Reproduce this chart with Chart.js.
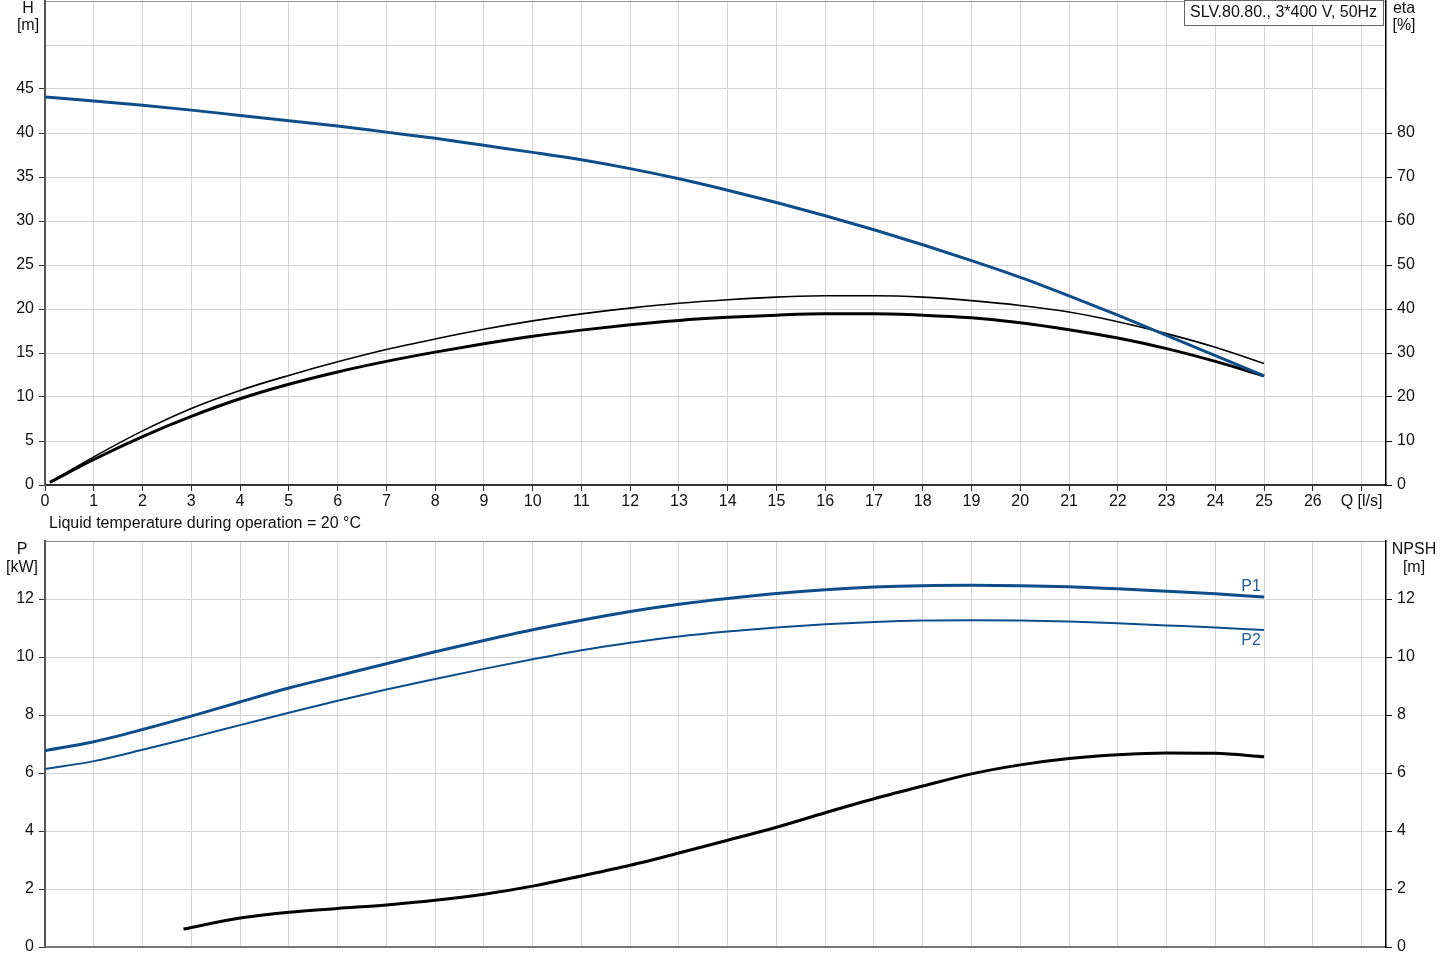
<!DOCTYPE html>
<html><head><meta charset="utf-8">
<script src="https://cdn.jsdelivr.net/npm/chart.js@4.4.1/dist/chart.umd.min.js"></script>
<style>
html,body{margin:0;padding:0;background:#fff;width:1445px;height:970px;overflow:hidden;}
canvas{position:absolute;left:0;}
#top{top:0;}
#bot{top:535px;}
</style></head><body>
<canvas id="top" width="1445" height="540"></canvas>
<canvas id="bot" width="1445" height="435"></canvas>
<script>
// ---- data ----
const qFlow = [0,1,2,3,4,5,6,7,8,9,10,11,12,13,14,15,16,17,18,19,20,21,22,23,24,25];
const headH = [44.1,43.65,43.15,42.6,42.0,41.4,40.8,40.1,39.4,38.6,37.8,36.95,35.95,34.8,33.5,32.1,30.6,29.0,27.3,25.5,23.6,21.5,19.3,17.0,14.7,12.4];
const qEta = [0.1,1,2,3,4,5,6,7,8,9,10,11,12,13,14,15,16,17,18,19,20,21,22,23,24,25];
const etaThin = [0.65,6.4,12.3,17.4,21.5,24.9,28.0,30.8,33.2,35.4,37.3,38.9,40.2,41.3,42.1,42.7,43.0,43.0,42.7,41.9,40.8,39.3,37.1,34.4,31.3,27.6];
const etaThick = [0.6,5.8,11.0,15.6,19.6,22.9,25.7,28.1,30.2,32.1,33.8,35.2,36.4,37.4,38.1,38.6,38.9,38.9,38.6,38.0,36.9,35.3,33.4,31.0,28.1,24.8];
const powerP1 = [6.77,7.08,7.5,7.96,8.45,8.93,9.35,9.77,10.18,10.57,10.94,11.27,11.57,11.82,12.02,12.19,12.32,12.41,12.46,12.47,12.46,12.42,12.35,12.27,12.18,12.07];
const powerP2 = [6.14,6.41,6.8,7.22,7.65,8.08,8.49,8.88,9.24,9.59,9.92,10.23,10.49,10.71,10.88,11.02,11.13,11.21,11.26,11.27,11.26,11.22,11.16,11.09,11.02,10.93];
const qNpsh = [2.84,4,5,6,7,8,9,10,11,12,13,14,15,16,17,18,19,20,21,22,23,24,25];
const npshVals = [0.62,1.0,1.2,1.33,1.45,1.61,1.82,2.1,2.45,2.82,3.24,3.68,4.13,4.63,5.11,5.55,5.97,6.28,6.5,6.63,6.69,6.68,6.56];
const xLastTickLabel = 'Q [l/s]';
const titleText = 'SLV.80.80., 3*400 V, 50Hz';
const noteText = 'Liquid temperature during operation = 20 °C';

// ---- styling ----
const BLUE = '#0d4e8a';
const FAM = "'Liberation Sans', Arial, sans-serif";
const FONT = {family: FAM, size: 16};
const GRID = '#d4d4d4';
const TXT = '#111';
const pts = (xs, ys) => xs.map((x, i) => ({x: x, y: ys[i]}));
const hide = 'rgba(0,0,0,0)';
const noPad = s => { s.paddingTop = 0; s.paddingBottom = 0; s.paddingLeft = 0; s.paddingRight = 0; };

function txt(ctx, s, x, y, align, color) {
  ctx.save();
  ctx.font = '16px ' + FAM;
  ctx.fillStyle = color || TXT;
  ctx.textAlign = align || 'center';
  ctx.textBaseline = 'middle';
  ctx.fillText(s, x, y);
  ctx.restore();
}

const topTexts = {
  id: 'topTexts',
  afterDraw(chart) {
    const c = chart.ctx;
    txt(c, 'H', 28, 9); txt(c, '[m]', 28, 26);
    txt(c, 'eta', 1404, 9); txt(c, '[%]', 1404, 26);
    c.save();
    c.fillStyle = '#fff'; c.strokeStyle = '#666'; c.lineWidth = 1;
    c.fillRect(1184.5, 0.5, 199, 25); c.strokeRect(1184.5, 0.5, 199, 25);
    c.restore();
    txt(c, titleText, 1190, 13, 'left');
    txt(c, noteText, 49, 524, 'left');
  }
};

const botTexts = {
  id: 'botTexts',
  afterDraw(chart) {
    const c = chart.ctx;
    txt(c, 'P', 22, 15); txt(c, '[kW]', 22, 33);
    txt(c, 'NPSH', 1414, 15); txt(c, '[m]', 1414, 33);
    const xs = chart.scales.x, ys = chart.scales.y;
    const n1 = powerP1.length - 1, n2 = powerP2.length - 1;
    txt(c, 'P1', xs.getPixelForValue(qFlow[n1]) - 13, ys.getPixelForValue(powerP1[n1]) - 10, 'center', '#1f5fa0');
    txt(c, 'P2', xs.getPixelForValue(qFlow[n2]) - 13, ys.getPixelForValue(powerP2[n2]) + 11, 'center', '#1f5fa0');
  }
};

const common = {
  responsive: false, animation: false, events: [],
  plugins: {legend: {display: false}, tooltip: {enabled: false}},
  elements: {point: {radius: 0}, line: {cubicInterpolationMode: 'monotone', borderCapStyle: 'butt', fill: false}}
};

new Chart(document.getElementById('top'), {
  type: 'line',
  data: {datasets: [
    {data: pts(qFlow, headH), borderColor: BLUE, borderWidth: 3, yAxisID: 'y'},
    {data: pts(qEta, etaThin), borderColor: '#000', borderWidth: 1.6, yAxisID: 'eta'},
    {data: pts(qEta, etaThick), borderColor: '#000', borderWidth: 3, yAxisID: 'eta'}
  ]},
  options: Object.assign({}, common, {
    layout: {padding: {top: 1, left: 0, right: 0, bottom: 0}},
    scales: {
      x: {type: 'linear', min: 0, max: 27.5,
        afterFit: s => { s.height = 55; noPad(s); },
        ticks: {stepSize: 1, includeBounds: false, autoSkip: false, maxRotation: 0, font: FONT, color: TXT, padding: 1,
          callback: v => v === 27 ? xLastTickLabel : String(v)},
        grid: {color: GRID, lineWidth: 1, tickLength: 6, tickColor: '#333'},
        border: {color: '#333', width: 2}},
      y: {position: 'left', min: 0, max: 55,
        afterFit: s => { s.width = 45; noPad(s); },
        ticks: {stepSize: 5, font: FONT, color: TXT, padding: 5, callback: v => v <= 45 ? String(v) : ''},
        grid: {color: c => (c.tick && c.tick.value === 55) ? '#999' : GRID, tickLength: 6,
          tickColor: c => (c.tick && c.tick.value > 45) ? hide : '#333'},
        border: {color: '#555', width: 2}},
      eta: {position: 'right', min: 0, max: 110,
        afterFit: s => { s.width = 59; noPad(s); },
        ticks: {stepSize: 10, font: FONT, color: TXT, padding: 5, callback: v => v <= 80 ? String(v) : ''},
        grid: {drawOnChartArea: false, tickLength: 6, tickColor: c => (c.tick && c.tick.value > 80) ? hide : '#000'},
        border: {color: '#000', width: 1.5}}
    }
  }),
  plugins: [topTexts]
});

new Chart(document.getElementById('bot'), {
  type: 'line',
  data: {datasets: [
    {data: pts(qFlow, powerP1), borderColor: BLUE, borderWidth: 3, yAxisID: 'y'},
    {data: pts(qFlow, powerP2), borderColor: BLUE, borderWidth: 2, yAxisID: 'y'},
    {data: pts(qNpsh, npshVals), borderColor: '#000', borderWidth: 3, yAxisID: 'npsh'}
  ]},
  options: Object.assign({}, common, {
    layout: {padding: {top: 6, left: 0, right: 0, bottom: 0}},
    scales: {
      x: {type: 'linear', min: 0, max: 27.5,
        afterFit: s => { s.height = 23; noPad(s); },
        ticks: {display: false, stepSize: 1, includeBounds: false, autoSkip: false},
        grid: {color: GRID, lineWidth: 1, drawTicks: false},
        border: {color: '#777', width: 2}},
      y: {position: 'left', min: 0, max: 14,
        afterFit: s => { s.width = 45; noPad(s); },
        ticks: {stepSize: 2, font: FONT, color: TXT, padding: 5, callback: v => v <= 12 ? String(v) : ''},
        grid: {color: c => (c.tick && c.tick.value === 14) ? '#888' : GRID, tickLength: 6,
          tickColor: c => (c.tick && c.tick.value > 12) ? hide : '#333'},
        border: {color: '#555', width: 2}},
      npsh: {position: 'right', min: 0, max: 14,
        afterFit: s => { s.width = 59; noPad(s); },
        ticks: {stepSize: 2, font: FONT, color: TXT, padding: 5, callback: v => v <= 12 ? String(v) : ''},
        grid: {drawOnChartArea: false, tickLength: 6, tickColor: c => (c.tick && c.tick.value > 12) ? hide : '#000'},
        border: {color: '#000', width: 1.5}}
    }
  }),
  plugins: [botTexts]
});
</script>
</body></html>
